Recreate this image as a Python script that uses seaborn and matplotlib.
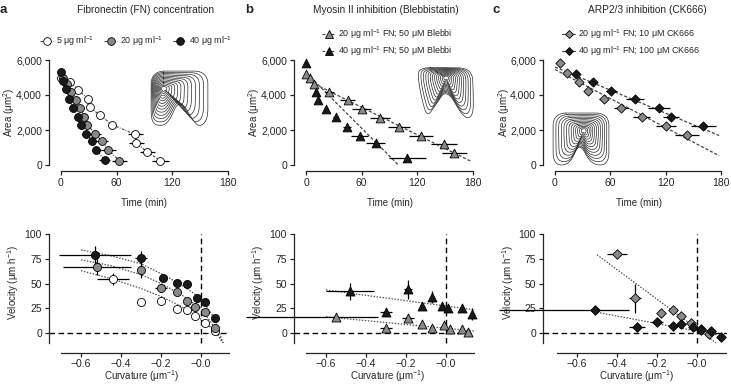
import numpy as np
import matplotlib
matplotlib.use('Agg')
import matplotlib.pyplot as plt
from matplotlib.lines import Line2D
import seaborn as sns

# ---------------- data ----------------
# panel a, top: area (um^2) vs time (min)
a5_t = [0, 10, 18, 29, 31, 42, 55, 80, 81, 93, 107]
a5_area = [5000, 4750, 4300, 3800, 3300, 2850, 2300, 1750, 1250, 750, 250]
a5_terr = [0, 1, 2, 2, 3, 3, 4, 8, 8, 8, 9]
a20_t = [2, 6, 11, 16, 21, 25, 28, 37, 44, 51, 63]
a20_area = [4950, 4650, 4200, 3700, 3250, 2750, 2300, 1800, 1350, 850, 250]
a20_terr = [0, 1, 1, 2, 2, 3, 4, 6, 7, 8, 8]
a40_t = [0, 2, 5, 9, 13, 18, 22, 27, 33, 38, 47]
a40_area = [5300, 4800, 4350, 3750, 3250, 2750, 2300, 1800, 1350, 850, 300]
a40_terr = [0, 1, 1, 1, 2, 2, 3, 4, 4, 5, 6]

# panel b, top
b20_t = [0, 4, 9, 25, 45, 60, 80, 100, 124, 149, 160]
b20_area = [5200, 5000, 4650, 4200, 3700, 3200, 2700, 2150, 1650, 1200, 700]
b20_terr = [0.5, 1, 2, 5, 8, 10, 11, 12, 13, 14, 13]
b40_t = [0, 11, 13, 22, 32, 44, 58, 75, 109]
b40_area = [5850, 4150, 3700, 3200, 2750, 2200, 1650, 1250, 400]
b40_terr = [0, 1, 1, 2, 3, 4, 9, 10, 20]
b_fit_int = [4870, 5280]
b_fit_slope = [-26.2, -53.0]
b_fit_range = [(5, 177), (5, 100)]

# panel c, top
c10_t = [5, 13, 26, 36, 53, 72, 94, 120, 143]
c10_area = [5850, 5250, 4750, 4250, 3750, 3250, 2750, 2250, 1700]
c10_terr = [1, 1, 2, 3, 5, 8, 9, 11, 13]
c100_t = [23, 41, 61, 87, 113, 126, 161]
c100_area = [5200, 4750, 4250, 3750, 3250, 2750, 2250]
c100_terr = [2, 5, 6, 10, 12, 9, 14]
c_fit_int = [5460, 5600]
c_fit_slope = [-27.7, -22.0]
c_fit_range = [(0, 178), (0, 178)]

# bottom row: velocity (um/h) vs curvature (1/um)
va5_k = [-0.44, -0.30, -0.20, -0.12, -0.07, -0.03, 0.02, 0.07]
va5_v = [55, 31, 32, 24, 23, 17, 10, 2]
va5_kerr = [0.08, 0.02, 0.02, 0.01, 0.01, 0.01, 0.01, 0.01]
va5_verr = [6, 3, 2, 2, 2, 2, 2, 2]
va20_k = [-0.52, -0.30, -0.20, -0.12, -0.07, -0.03, 0.02, 0.07]
va20_v = [67, 64, 46, 41, 32, 26, 21, 5]
va20_kerr = [0.17, 0.02, 0.03, 0.01, 0.01, 0.01, 0.01, 0.01]
va20_verr = [8, 8, 3, 2, 2, 2, 2, 2]
va40_k = [-0.53, -0.30, -0.19, -0.12, -0.07, -0.02, 0.02, 0.07]
va40_v = [79, 76, 56, 51, 50, 35, 31, 15]
va40_kerr = [0.18, 0.03, 0.02, 0.01, 0.01, 0.01, 0.01, 0.01]
va40_verr = [9, 7, 3, 3, 3, 3, 3, 2]
va_fit_k = [-0.6, -0.45, -0.3, -0.2, -0.1, 0.0, 0.07, 0.11]
va5_fit_v = [63, 55, 45, 37, 27, 14, 2, -10]
va20_fit_v = [74, 68, 59, 50, 39, 25, 5, -10]
va40_fit_v = [84, 78, 70, 60, 49, 35, 14, -10]

vb20_k = [-0.55, -0.30, -0.19, -0.12, -0.07, -0.01, 0.02, 0.08, 0.11]
vb20_v = [16, 5, 15, 9, 5, 8, 4, 4, 1]
vb20_kerr = [[0.45, 0.03, 0.03, 0.01, 0.01, 0.01, 0.01, 0.01, 0.01],
             [0.21, 0.03, 0.03, 0.01, 0.01, 0.01, 0.01, 0.01, 0.01]]
vb20_verr = [2, 3, 2, 2, 2, 2, 2, 2, 2]
vb40_k = [-0.48, -0.30, -0.19, -0.12, -0.07, -0.02, 0.01, 0.08, 0.13]
vb40_v = [42, 21, 44, 27, 36, 27, 25, 25, 19]
vb40_kerr = [0.12, 0.03, 0.02, 0.01, 0.01, 0.01, 0.01, 0.01, 0.01]
vb40_verr = [9, 4, 10, 3, 6, 3, 3, 4, 6]
vb_fit_int = [4.8, 27.3]
vb_fit_slope = [-19.5, -27.0]
vb_fit_range = [(-0.6, 0.145), (-0.6, 0.145)]

vc10_k = [-0.40, -0.31, -0.18, -0.12, -0.08, -0.03, 0.02, 0.06]
vc10_v = [80, 35, 20, 23, 17, 10, 4, -1]
vc10_kerr = [0.05, 0.03, 0.02, 0.01, 0.01, 0.01, 0.01, 0.01]
vc10_verr = [3, 15, 3, 3, 3, 2, 2, 2]
vc100_k = [-0.51, -0.30, -0.20, -0.12, -0.08, -0.02, 0.02, 0.07, 0.12]
vc100_v = [23, 6, 11, 7, 9, 6, 3, 2, -4]
vc100_kerr = [[0.48, 0.04, 0.03, 0.01, 0.01, 0.01, 0.01, 0.01, 0.01],
              [0.17, 0.04, 0.03, 0.01, 0.01, 0.01, 0.01, 0.01, 0.01]]
vc100_verr = [2, 2, 2, 2, 2, 2, 2, 2, 2]
vc_fit_int = [4.3, 2.0]
vc_fit_slope = [-149.5, -38.0]
vc_fit_range = [(-0.5, 0.1), (-0.5, 0.1)]

# cell outline insets (normalised to inset box)
cell_a = [(0.0, 1.0), (0.5, 1.0), (1.0, 1.0), (1.0, 0.5), (1.0, 0.15), (0.9, 0.0), (0.78, 0.02),
          (0.5, 0.52), (0.3, 0.03), (0.1, 0.0), (0.0, 0.1), (0.0, 0.5)]
cell_b = [(0.06, 0.97), (0.5, 0.97), (0.97, 0.96), (0.99, 0.5), (0.99, 0.05), (0.83, 0.0),
          (0.53, 0.58), (0.33, 0.25), (0.19, 0.04), (0.1, 0.36), (0.03, 0.79)]
cell_c = [(0.0, 1.0), (0.5, 1.0), (1.0, 1.0), (1.0, 0.5), (1.0, 0.0), (0.68, 0.0), (0.47, 0.45),
          (0.3, 0.0), (0.0, 0.0), (0.0, 0.5)]

GREY = '#8a8a8a'
BLACK = '#1a1a1a'

sns.set_style('ticks')
plt.rcParams['font.family'] = ['Liberation Sans', 'DejaVu Sans']
plt.rcParams['mathtext.fontset'] = 'custom'
plt.rcParams['mathtext.rm'] = 'Liberation Sans'
plt.rcParams['mathtext.it'] = 'Liberation Sans:italic'
plt.rcParams['axes.linewidth'] = 0.9

W, H = 731, 385
fig = plt.figure(figsize=(W / 100, H / 100), dpi=100)


def px_axes(l, t, r, b):
    return fig.add_axes([l / W, 1 - b / H, (r - l) / W, (b - t) / H])


def ftext(x, y, s, **kw):
    fig.text(x / W, 1 - y / H, s, **kw)


def style(ax):
    sns.despine(ax=ax)
    ax.tick_params(length=3, width=0.9, labelsize=7.5, pad=2, color='#222')


def area_axes(l, r, x0px):
    ax = px_axes(l, 60, r, 165)
    scale = (r - x0px) / 180
    ax.set_xlim(-(x0px - l) / scale, 180)
    ax.set_ylim(0, 6000)
    ax.set_xticks([0, 60, 120, 180])
    ax.set_yticks([0, 2000, 4000, 6000])
    ax.set_yticklabels(['0', '2,000', '4,000', '6,000'])
    style(ax)
    ax.spines['bottom'].set_position(('outward', 4.5))
    ax.spines['bottom'].set_bounds(0, 180)
    ax.spines['left'].set_bounds(0, 6000)
    ax.set_xlabel('')
    ax.set_ylabel('')
    return ax


def vel_axes(l, r, zeropx):
    ax = px_axes(l, 234, r, 343)
    ax.set_xlim((l - zeropx) / 200, (r - zeropx) / 200)
    ax.set_ylim(-10, 100)
    ax.set_xticks([-0.6, -0.4, -0.2, 0.0])
    ax.set_xticklabels(['\u22120.6', '\u22120.4', '\u22120.2', '\u22120.0'])
    ax.set_yticks([0, 25, 50, 75, 100])
    style(ax)
    ax.tick_params(axis='x', pad=1)
    ax.spines['bottom'].set_position(('outward', 7.5))
    ax.spines['bottom'].set_bounds(-0.7, (r - zeropx) / 200 - 0.005)
    ax.axhline(0, color='black', lw=1.0, ls=(0, (4, 2.5)), zorder=1)
    ax.axvline(0, color='black', lw=1.0, ls=(0, (4, 2.5)), zorder=1, clip_on=False)
    ax.set_xlabel('')
    ax.set_ylabel('')
    return ax


def points(ax, x, y, xerr, yerr, marker, s, fc):
    ax.errorbar(x, y, xerr=xerr, yerr=yerr, fmt='none', ecolor='black',
                elinewidth=0.9, capsize=0, zorder=3, clip_on=False)
    sns.scatterplot(x=x, y=y, marker=marker, s=s, color=fc, edgecolor='black',
                    linewidth=0.6, ax=ax, zorder=4, clip_on=False, legend=False)


def fit_line(ax, xr, b0, b1, ls, color='#444'):
    xx = np.array(xr, float)
    sns.lineplot(x=xx, y=b0 + b1 * xx, color=color, lw=0.9, linestyle=ls,
                 ax=ax, zorder=2, sort=False, estimator=None)


def cell(box, outline, centre, n=13):
    ax = px_axes(*box)
    ax.set_axis_off()
    ax.set_xlim(-0.02, 1.02)
    ax.set_ylim(-0.02, 1.02)
    pts = np.array(outline, float)
    for _ in range(3):
        q = np.roll(pts, -1, axis=0)
        pts = np.stack([0.75 * pts + 0.25 * q, 0.25 * pts + 0.75 * q], axis=1).reshape(-1, 2)
    pts = np.vstack([pts, pts[:1]])
    c = np.array(centre)
    d = pts - c
    rad = np.hypot(d[:, 0], d[:, 1])[:, None]
    ring = d / rad * rad.mean() * 0.55
    for f in np.linspace(1, 0.12, n):
        w = f ** 0.6
        p = c + f * (w * d + (1 - w) * ring)
        ax.plot(p[:, 0], p[:, 1], color='#2a2a2a', lw=0.5)


def legend(ax, handles, labels, x, y, ncol=1):
    ax.legend(handles, labels, loc='upper left', bbox_to_anchor=(x / W, 1 - y / H),
              bbox_transform=fig.transFigure, frameon=False, fontsize=6.4, ncol=ncol,
              borderpad=0, borderaxespad=0, handlelength=1.5, handletextpad=0.3,
              columnspacing=1.1, labelspacing=0.45)


def proxy(marker, fc, ms, ls):
    return Line2D([0], [0], color='#444', lw=0.8, ls=ls, marker=marker, markersize=ms,
                  markerfacecolor=fc, markeredgecolor='black', markeredgewidth=0.6)


dashdot = (0, (2.5, 1.2, 0.8, 1.2))
dashed = (0, (2.5, 1.5))
dotted = (0, (1.2, 1.2))
ug = 'μg ml$^{-1}$'

# ---------------- top row ----------------
ax = area_axes(49, 228, 61)
for t, A, te, fc in [(a5_t, a5_area, a5_terr, 'white'), (a20_t, a20_area, a20_terr, GREY),
                     (a40_t, a40_area, a40_terr, BLACK)]:
    sns.lineplot(x=t, y=A, color='#444', lw=0.8, linestyle=dashdot, ax=ax, zorder=2,
                 sort=False, estimator=None)
    points(ax, t, A, te, None, 'o', 32, fc)
legend(ax, [proxy('o', 'white', 5.5, dashdot), proxy('o', GREY, 5.5, dashdot),
            proxy('o', BLACK, 5.5, dashdot)],
       ['5 ' + ug, '20 ' + ug, '40 ' + ug], 40, 34, ncol=3)
cell((150, 70, 209, 127), cell_a, (0.22, 0.68))

ax = area_axes(294, 473, 306)
for i in range(2):
    fit_line(ax, b_fit_range[i], b_fit_int[i], b_fit_slope[i], dashed)
points(ax, b20_t, b20_area, b20_terr, None, '^', 40, GREY)
points(ax, b40_t, b40_area, b40_terr, None, '^', 40, BLACK)
legend(ax, [proxy('^', GREY, 6, dashed), proxy('^', BLACK, 6, dashed)],
       ['20 ' + ug + ' FN; 50 μM Blebbi', '40 ' + ug + ' FN; 50 μM Blebbi'], 322, 27)
cell((415, 65, 475, 120), cell_b, (0.52, 0.78))

ax = area_axes(543, 721, 555)
for i in range(2):
    fit_line(ax, c_fit_range[i], c_fit_int[i], c_fit_slope[i], dashed)
points(ax, c10_t, c10_area, c10_terr, None, 'D', 22, GREY)
points(ax, c100_t, c100_area, c100_terr, None, 'D', 22, BLACK)
legend(ax, [proxy('D', GREY, 4.5, '-'), proxy('D', BLACK, 4.5, '-')],
       ['20 ' + ug + ' FN; 10 μM CK666', '40 ' + ug + ' FN; 100 μM CK666'], 562, 27)
cell((552, 112, 610, 166), cell_c, (0.55, 0.66))

# ---------------- bottom row ----------------
ax = vel_axes(49, 230, 201)
for fv in [va5_fit_v, va20_fit_v, va40_fit_v]:
    sns.lineplot(x=va_fit_k, y=fv, color='#555', lw=0.9, linestyle=dotted, ax=ax, zorder=2,
                 sort=False, estimator=None)
points(ax, va5_k, va5_v, va5_kerr, va5_verr, 'o', 34, 'white')
points(ax, va20_k, va20_v, va20_kerr, va20_verr, 'o', 34, GREY)
points(ax, va40_k, va40_v, va40_kerr, va40_verr, 'o', 34, BLACK)

ax = vel_axes(294, 475, 446)
for i in range(2):
    fit_line(ax, vb_fit_range[i], vb_fit_int[i], vb_fit_slope[i], dotted, '#555')
points(ax, vb20_k, vb20_v, vb20_kerr, vb20_verr, '^', 42, GREY)
points(ax, vb40_k, vb40_v, vb40_kerr, vb40_verr, '^', 42, BLACK)

ax = vel_axes(543, 727, 697)
for i in range(2):
    fit_line(ax, vc_fit_range[i], vc_fit_int[i], vc_fit_slope[i], dotted, '#555')
points(ax, vc10_k, vc10_v, vc10_kerr, vc10_verr, 'D', 24, GREY)
points(ax, vc100_k, vc100_v, vc100_kerr, vc100_verr, 'D', 24, BLACK)

# ---------------- texts ----------------
for x, letter in [(0, 'a'), (245, 'b'), (492, 'c')]:
    ftext(x, 10, letter, fontsize=9.5, fontweight='bold', ha='left', va='center')
ftext(146, 10, 'Fibronectin (FN) concentration', fontsize=7.3, ha='center', va='center')
ftext(386, 10, 'Myosin II inhibition (Blebbistatin)', fontsize=7.3, ha='center', va='center')
ftext(647, 10, 'ARP2/3 inhibition (CK666)', fontsize=7.3, ha='center', va='center')
for x in [144, 390, 639]:
    ftext(x, 203, 'Time (min)', fontsize=7, ha='center', va='center')
for x in [142, 388, 637]:
    ftext(x, 384.5, 'Curvature (μm$^{-1}$)', fontsize=7, ha='center', va='bottom')
for x in [9, 254, 504]:
    ftext(x, 112, 'Area (μm$^{2}$)', fontsize=7, ha='center', va='center', rotation=90)
for x in [13, 258, 508]:
    ftext(x, 283, 'Velocity (μm h$^{-1}$)', fontsize=7, ha='center', va='center', rotation=90)

fig.savefig('out.png', dpi=100)
